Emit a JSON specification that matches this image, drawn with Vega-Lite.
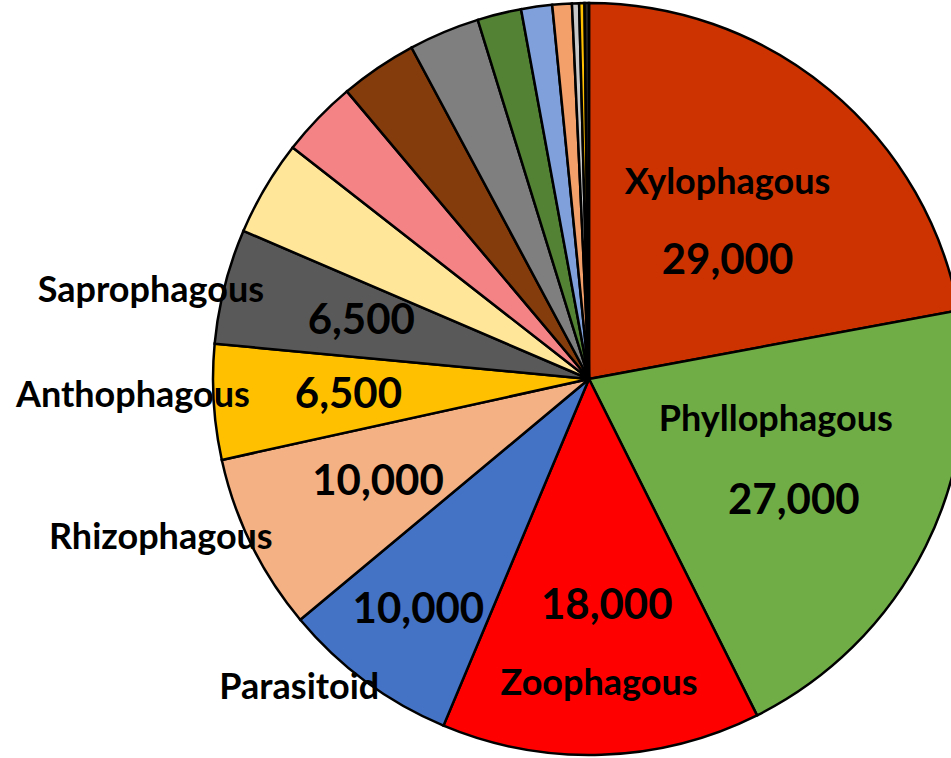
{
  "$schema": "https://vega.github.io/schema/vega-lite/v6.json",
  "width": 1178,
  "height": 758,
  "autosize": {"type": "none"},
  "padding": 0,
  "background": "white",
  "config": {"view": {"stroke": null}, "text": {"font": "Lato", "fontWeight": "bold", "fill": "black", "baseline": "middle", "align": "center"}},
  "data": {"values": [
    {"order": 1, "cat": "Xylophagous", "value": 29000},
    {"order": 2, "cat": "Phyllophagous", "value": 27000},
    {"order": 3, "cat": "Zoophagous", "value": 18000},
    {"order": 4, "cat": "Parasitoid", "value": 10000},
    {"order": 5, "cat": "Rhizophagous", "value": 10000},
    {"order": 6, "cat": "Anthophagous", "value": 6500},
    {"order": 7, "cat": "Saprophagous", "value": 6500},
    {"order": 8, "cat": "Other 8", "value": 5400},
    {"order": 9, "cat": "Other 9", "value": 4350},
    {"order": 10, "cat": "Other 10", "value": 4350},
    {"order": 11, "cat": "Other 11", "value": 4000},
    {"order": 12, "cat": "Other 12", "value": 2480},
    {"order": 13, "cat": "Other 13", "value": 1750},
    {"order": 14, "cat": "Other 14", "value": 1100},
    {"order": 15, "cat": "Other 15", "value": 400},
    {"order": 16, "cat": "Other 16", "value": 300},
    {"order": 17, "cat": "Other 17", "value": 250}
  ]},
  "encoding": {
    "theta": {"field": "value", "type": "quantitative", "stack": true},
    "order": {"field": "order", "type": "quantitative"}
  },
  "layer": [
    {
      "mark": {"type": "arc", "outerRadius": 376, "stroke": "black", "strokeWidth": 2.5},
      "encoding": {
        "color": {
          "field": "cat", "type": "nominal", "legend": null,
          "scale": {
            "domain": ["Xylophagous", "Phyllophagous", "Zoophagous", "Parasitoid", "Rhizophagous", "Anthophagous", "Saprophagous", "Other 8", "Other 9", "Other 10", "Other 11", "Other 12", "Other 13", "Other 14", "Other 15", "Other 16", "Other 17"],
            "range": ["#CC3300", "#70AD47", "#FF0000", "#4472C4", "#F4B183", "#FFC000", "#595959", "#FFE699", "#F48386", "#843C0C", "#7F7F7F", "#548235", "#7FA0DA", "#F3A06A", "#C8C8C8", "#FFC000", "#262626"]
          }
        }
      }
    },
    {
      "mark": {"type": "text", "radius": 212, "dx": 3, "dy": -33, "fontSize": 36},
      "encoding": {"text": {"condition": {"test": "datum.cat === 'Xylophagous'", "field": "cat", "type": "nominal"}, "value": ""}}
    },
    {
      "mark": {"type": "text", "radius": 212, "dx": 3, "dy": 45, "fontSize": 42},
      "encoding": {"text": {"condition": {"test": "datum.cat === 'Xylophagous'", "field": "value", "type": "quantitative", "format": ","}, "value": ""}}
    },
    {
      "mark": {"type": "text", "radius": 212, "dx": -3, "dy": -53, "fontSize": 36},
      "encoding": {"text": {"condition": {"test": "datum.cat === 'Phyllophagous'", "field": "cat", "type": "nominal"}, "value": ""}}
    },
    {
      "mark": {"type": "text", "radius": 212, "dx": 15, "dy": 28, "fontSize": 42},
      "encoding": {"text": {"condition": {"test": "datum.cat === 'Phyllophagous'", "field": "value", "type": "quantitative", "format": ","}, "value": ""}}
    },
    {
      "mark": {"type": "text", "radius": 235, "fontSize": 42},
      "encoding": {"text": {"condition": {"test": "indexof(['Rhizophagous','Saprophagous'], datum.cat) >= 0", "field": "value", "type": "quantitative", "format": ","}, "value": ""}}
    },
    {
      "mark": {"type": "text", "radius": 235, "dx": -6, "dy": 2, "fontSize": 42},
      "encoding": {"text": {"condition": {"test": "datum.cat === 'Anthophagous'", "field": "value", "type": "quantitative", "format": ","}, "value": ""}}
    },
    {
      "mark": {"type": "text", "radius": 235, "dx": 10, "dy": -8, "fontSize": 42},
      "encoding": {"text": {"condition": {"test": "datum.cat === 'Zoophagous'", "field": "value", "type": "quantitative", "format": ","}, "value": ""}}
    },
    {
      "mark": {"type": "text", "radius": 287, "fontSize": 42},
      "encoding": {"text": {"condition": {"test": "datum.cat === 'Parasitoid'", "field": "value", "type": "quantitative", "format": ","}, "value": ""}}
    },
    {
      "mark": {"type": "text", "radius": 305, "fontSize": 36},
      "encoding": {"text": {"condition": {"test": "datum.cat === 'Zoophagous'", "field": "cat", "type": "nominal"}, "value": ""}}
    },
    {
      "mark": {"type": "text", "radius": 420, "dx": -40, "dy": -29, "fontSize": 36},
      "encoding": {"text": {"condition": {"test": "datum.cat === 'Parasitoid'", "field": "cat", "type": "nominal"}, "value": ""}}
    },
    {
      "mark": {"type": "text", "radius": 458, "dx": -17, "dy": -43, "fontSize": 36},
      "encoding": {"text": {"condition": {"test": "datum.cat === 'Rhizophagous'", "field": "cat", "type": "nominal"}, "value": ""}}
    },
    {
      "mark": {"type": "text", "radius": 457, "dy": -11, "fontSize": 36},
      "encoding": {"text": {"condition": {"test": "datum.cat === 'Anthophagous'", "field": "cat", "type": "nominal"}, "value": ""}}
    },
    {
      "mark": {"type": "text", "radius": 449, "dx": -3, "dy": 23, "fontSize": 36},
      "encoding": {"text": {"condition": {"test": "datum.cat === 'Saprophagous'", "field": "cat", "type": "nominal"}, "value": ""}}
    }
  ]
}
